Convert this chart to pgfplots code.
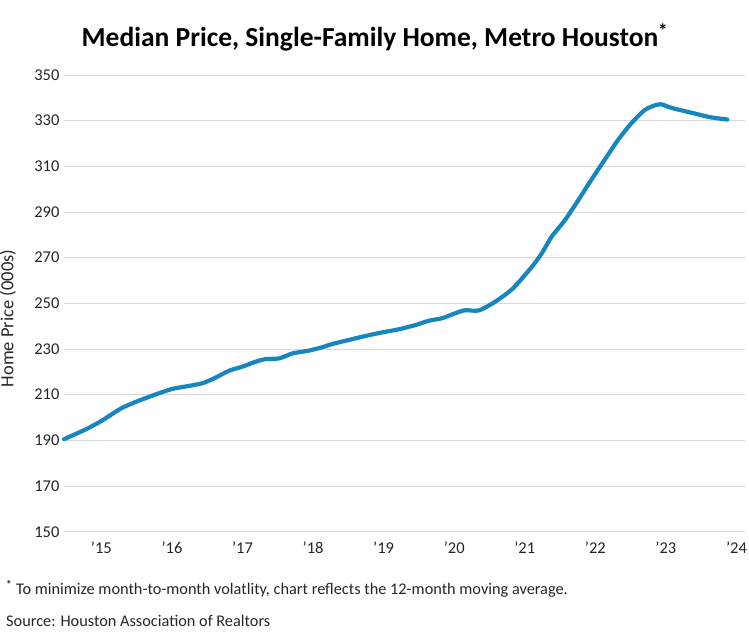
\documentclass[border=0pt]{standalone}
\usepackage{pgfplots}
\pgfplotsset{compat=1.18}
\usepackage{fontspec}
\setmainfont{Carlito}

\definecolor{lineblue}{RGB}{24,134,190}
\definecolor{gridgray}{RGB}{217,217,217}
\definecolor{txt}{RGB}{38,38,38}

\begin{document}
\begin{tikzpicture}[x=1pt,y=1pt]
  \useasboundingbox (0,0) rectangle (749,643);

  \begin{axis}[
    at={(64pt,111.3pt)}, anchor=south west,
    scale only axis, width=681pt, height=456.7pt,
    xmin=2014.47, xmax=2024.12,
    ymin=150, ymax=350,
    axis line style={draw=none},
    tick style={draw=none},
    ymajorgrids, grid style={gridgray, line width=0.8pt},
    xtick={2015,...,2024},
    xticklabels={'15,'16,'17,'18,'19,'20,'21,'22,'23,'24},
    ytick={150,170,...,350},
    /pgf/number format/assume math mode=true,
    ticklabel style={font=\fontsize{16.5}{18}\selectfont, text=txt},
    xticklabel style={yshift=-7pt},
    yticklabel style={xshift=-1pt},
    clip=false,
  ]
    \addplot[lineblue, line width=4.2pt, line join=round, line cap=round, smooth, tension=0.4] coordinates {
      (2014.47,190.5) (2014.65,193.0) (2014.81,195.3) (2015.00,198.5)
      (2015.28,204.0) (2015.50,207.0) (2015.75,209.9) (2016.00,212.5)
      (2016.27,214.0) (2016.45,215.2) (2016.62,217.5) (2016.81,220.5)
      (2017.00,222.3) (2017.19,224.5) (2017.33,225.6) (2017.52,225.9)
      (2017.71,228.1) (2017.94,229.3) (2018.13,230.8) (2018.27,232.2)
      (2018.51,234.0) (2018.74,235.7) (2018.98,237.3) (2019.21,238.6)
      (2019.45,240.5) (2019.64,242.4) (2019.83,243.5) (2020.06,246.2)
      (2020.16,247.0) (2020.35,246.9) (2020.58,250.7) (2020.83,256.5)
      (2021.10,266.0) (2021.24,271.9) (2021.38,279.2) (2021.57,286.5)
      (2021.76,295.3) (2021.94,304.0) (2022.13,312.8) (2022.32,321.5)
      (2022.51,328.9) (2022.70,334.7) (2022.86,336.9) (2022.93,337.2)
      (2023.09,335.5) (2023.40,333.2) (2023.63,331.5) (2023.87,330.5)
    };
  \end{axis}

  \node[font=\fontsize{27.5}{32}\selectfont\bfseries, text=black] at (375,606)
    {Median Price, Single-Family Home, Metro Houston\textsuperscript{*}};
  \node[rotate=90, font=\fontsize{18.5}{20}\selectfont, text=txt] at (8,324.5)
    {Home Price (000s)};
  \node[anchor=west, font=\fontsize{16.3}{19}\selectfont, text=txt, inner sep=0pt] at (6,54)
    {\textsuperscript{\bfseries*} To minimize month-to-month volatlity, chart reflects the 12-month moving average.};
  \node[anchor=west, font=\fontsize{16.3}{19}\selectfont, text=txt, inner sep=0pt] at (6,22)
    {Source: Houston Association of Realtors};
\end{tikzpicture}
\end{document}
